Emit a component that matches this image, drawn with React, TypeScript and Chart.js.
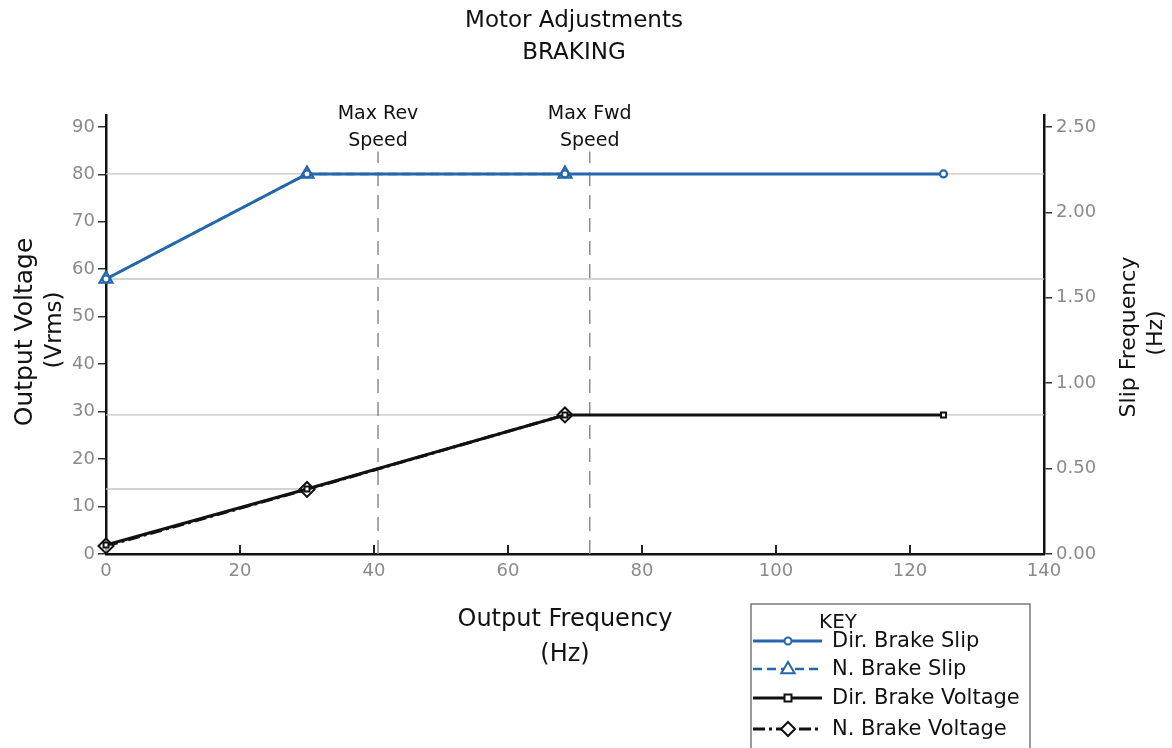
import React, { useEffect, useRef } from 'react';
import { Chart, registerables } from 'chart.js';

Chart.register(...registerables);

// ---------- data ----------
const slipFreqDir = [0, 30, 68.5, 125];
const slipDir = [1.61, 2.225, 2.225, 2.225];
const slipFreqN = [0, 30, 68.5];
const slipN = [1.61, 2.225, 2.225];
const voltFreqDir = [0, 30, 68.5, 125];
const voltDir = [1.9, 13.7, 29.3, 29.3];
const voltFreqN = [0, 30, 68.5];
const voltN = [1.7, 13.6, 29.3];

const xTickValues = [0, 20, 40, 60, 80, 100, 120, 140];
const leftTickValues = [0, 10, 20, 30, 40, 50, 60, 70, 80, 90];
const rightTickValues = [0, 0.5, 1.0, 1.5, 2.0, 2.5];

const speedMarkerX = [40.6, 72.2];
const speedMarkerLabels = [['Max Rev', 'Speed'], ['Max Fwd', 'Speed']];
const speedMarkerTop = 84.8; // in voltage units

const refSlipLevels = [2.225, 1.61];
const refVoltLevels = [29.3];
const refVoltPartial = { level: 13.7, xEnd: 30 };

const titleLines = ['Motor Adjustments', 'BRAKING'];
const xTitle = ['Output Frequency', '(Hz)'];
const yLeftTitle = ['Output Voltage', '(Vrms)'];
const yRightTitle = ['Slip Frequency', '(Hz)'];
const legendTitle = 'KEY';

const BLUE = '#2467ad';
const BLACK = '#111111';
const GRAY_REF = '#c4c4c4';
const FONT = '"DejaVu Sans", "Noto Sans", sans-serif';

const pts = (xs: number[], ys: number[]) => xs.map((x, i) => ({ x, y: ys[i] }));

const textPlugin = {
  id: 'extraText',
  afterDraw(chart: any) {
    const ctx = chart.ctx;
    const x = chart.scales.x;
    ctx.save();
    ctx.fillStyle = '#111';
    ctx.textAlign = 'center';
    ctx.textBaseline = 'middle';
    // title
    ctx.font = `23px ${FONT}`;
    ctx.fillText(titleLines[0], 574, 21);
    ctx.fillText(titleLines[1], 574, 53);
    // speed marker labels
    ctx.font = `19px ${FONT}`;
    speedMarkerX.forEach((v, i) => {
      const px = x.getPixelForValue(v);
      ctx.fillText(speedMarkerLabels[i][0], px, 114);
      ctx.fillText(speedMarkerLabels[i][1], px, 141);
    });
    // x title
    ctx.font = `24px ${FONT}`;
    ctx.fillText(xTitle[0], 565, 620);
    ctx.fillText(xTitle[1], 565, 655);
    // left y title
    ctx.font = `25px ${FONT}`;
    ctx.save();
    ctx.translate(25, 332);
    ctx.rotate(-Math.PI / 2);
    ctx.fillText(yLeftTitle[0], 0, 0);
    ctx.restore();
    ctx.font = `23px ${FONT}`;
    ctx.save();
    ctx.translate(55, 330);
    ctx.rotate(-Math.PI / 2);
    ctx.fillText(yLeftTitle[1], 0, 0);
    ctx.restore();
    // right y title
    ctx.font = `22px ${FONT}`;
    ctx.save();
    ctx.translate(1129, 337);
    ctx.rotate(-Math.PI / 2);
    ctx.fillText(yRightTitle[0], 0, 0);
    ctx.restore();
    ctx.save();
    ctx.translate(1156, 333);
    ctx.rotate(-Math.PI / 2);
    ctx.fillText(yRightTitle[1], 0, 0);
    ctx.restore();

    // inward x ticks
    ctx.strokeStyle = '#222';
    ctx.lineWidth = 2;
    const bottom = chart.chartArea.bottom;
    xTickValues.forEach((v) => {
      if (v === 0 || v === 140) return;
      const px = x.getPixelForValue(v);
      ctx.beginPath();
      ctx.moveTo(px, bottom);
      ctx.lineTo(px, bottom - 9);
      ctx.stroke();
    });

    // legend box
    ctx.strokeStyle = '#7a7a7a';
    ctx.lineWidth = 1.5;
    ctx.strokeRect(751, 604, 279, 160);
    ctx.fillStyle = '#111';
    ctx.font = `20px ${FONT}`;
    ctx.fillText(legendTitle, 838, 623);
    const rows = [641, 669, 698, 729];
    const ds = chart.data.datasets.slice(0, 4);
    ds.forEach((d: any, i: number) => {
      const y = rows[i];
      ctx.save();
      ctx.strokeStyle = d.borderColor;
      ctx.lineWidth = d.borderWidth;
      ctx.setLineDash(d.borderDash || []);
      ctx.beginPath();
      ctx.moveTo(753, y);
      ctx.lineTo(822, y);
      ctx.stroke();
      ctx.setLineDash([]);
      ctx.fillStyle = '#fff';
      ctx.lineWidth = 2;
      ctx.strokeStyle = d.pointBorderColor;
      const mx = 788;
      const ps = d.pointStyle;
      const r = ps === 'circle' ? 3.5 : ps === 'rect' ? 3.5 : 7;
      ctx.beginPath();
      if (ps === 'circle') {
        ctx.arc(mx, y, r, 0, Math.PI * 2);
      } else if (ps === 'rect') {
        ctx.rect(mx - r, y - r, 2 * r, 2 * r);
      } else if (ps === 'triangle') {
        ctx.moveTo(mx, y - r);
        ctx.lineTo(mx + r * 0.95, y + r * 0.6);
        ctx.lineTo(mx - r * 0.95, y + r * 0.6);
        ctx.closePath();
      } else {
        ctx.moveTo(mx, y - r);
        ctx.lineTo(mx + r, y);
        ctx.lineTo(mx, y + r);
        ctx.lineTo(mx - r, y);
        ctx.closePath();
      }
      ctx.fill();
      ctx.stroke();
      ctx.restore();
      ctx.fillStyle = '#111';
      ctx.textAlign = 'left';
      ctx.font = `21px ${FONT}`;
      ctx.fillText(d.label, 832, y + 1);
      ctx.textAlign = 'center';
    });
    ctx.restore();
  },
};

export default function App() {
  const ref = useRef<HTMLCanvasElement | null>(null);
  useEffect(() => {
    if (!ref.current) return;
    const refDatasets: any[] = [];
    refSlipLevels.forEach((lv) =>
      refDatasets.push({
        label: 'ref',
        data: [{ x: 0, y: lv }, { x: 140, y: lv }],
        yAxisID: 'y2',
        borderColor: GRAY_REF,
        borderWidth: 1.3,
        pointRadius: 0,
        order: 10,
      })
    );
    refVoltLevels.forEach((lv) =>
      refDatasets.push({
        label: 'ref',
        data: [{ x: 0, y: lv }, { x: 140, y: lv }],
        yAxisID: 'y',
        borderColor: GRAY_REF,
        borderWidth: 1.3,
        pointRadius: 0,
        order: 10,
      })
    );
    refDatasets.push({
      label: 'ref',
      data: [{ x: 0, y: refVoltPartial.level }, { x: refVoltPartial.xEnd, y: refVoltPartial.level }],
      yAxisID: 'y',
      borderColor: GRAY_REF,
      borderWidth: 1.3,
      pointRadius: 0,
      order: 10,
    });
    speedMarkerX.forEach((v) =>
      refDatasets.push({
        label: 'marker',
        data: [{ x: v, y: 0 }, { x: v, y: speedMarkerTop }],
        yAxisID: 'y',
        borderColor: '#8c8c8c',
        borderWidth: 1.5,
        borderDash: [14, 9],
        pointRadius: 0,
        order: 9,
      })
    );

    const chart = new Chart(ref.current, {
      type: 'line',
      data: {
        datasets: [
          {
            label: 'Dir. Brake Slip',
            data: pts(slipFreqDir, slipDir),
            yAxisID: 'y2',
            borderColor: BLUE,
            borderWidth: 3,
            pointStyle: 'circle',
            pointRadius: 3.5,
            pointBorderWidth: 2.2,
            pointBorderColor: BLUE,
            pointBackgroundColor: '#fff',
            order: 1,
          },
          {
            label: 'N. Brake Slip',
            data: pts(slipFreqN, slipN),
            yAxisID: 'y2',
            borderColor: BLUE,
            borderWidth: 2.5,
            borderDash: [9, 5],
            pointStyle: 'triangle',
            pointRadius: 7.5,
            pointBorderWidth: 2.2,
            pointBorderColor: BLUE,
            pointBackgroundColor: '#fff',
            order: 2,
          },
          {
            label: 'Dir. Brake Voltage',
            data: pts(voltFreqDir, voltDir),
            yAxisID: 'y',
            borderColor: BLACK,
            borderWidth: 3,
            pointStyle: 'rect',
            pointRadius: 3.5,
            pointBorderWidth: 2,
            pointBorderColor: BLACK,
            pointBackgroundColor: '#fff',
            order: 3,
          },
          {
            label: 'N. Brake Voltage',
            data: pts(voltFreqN, voltN),
            yAxisID: 'y',
            borderColor: BLACK,
            borderWidth: 3,
            borderDash: [12, 4, 3, 4],
            pointStyle: 'rectRot',
            pointRadius: 7.5,
            pointBorderWidth: 2,
            pointBorderColor: BLACK,
            pointBackgroundColor: 'rgba(255,255,255,0.6)',
            order: 4,
          },
          ...refDatasets,
        ],
      },
      options: {
        animation: false,
        responsive: true,
        maintainAspectRatio: false,
        layout: { padding: { top: 115, left: 0, right: 0, bottom: 0 } },
        plugins: {
          legend: { display: false },
          title: { display: false },
          tooltip: { enabled: false },
        },
        elements: { line: { tension: 0 } },
        datasets: { line: { clip: false as any } },
        scales: {
          x: {
            type: 'linear',
            min: 0,
            max: 140,
            afterFit: (s: any) => {
              s.height = 748 - 554;
            },
            afterBuildTicks: (s: any) => {
              s.ticks = xTickValues.map((v) => ({ value: v }));
            },
            grid: { display: true, drawOnChartArea: false, drawTicks: false },
            border: { display: true, color: BLACK, width: 2.5 },
            ticks: {
              color: '#8a8a8a',
              font: { family: FONT, size: 18 },
              padding: 7,
              maxRotation: 0,
            },
          },
          y: {
            type: 'linear',
            position: 'left',
            min: 0,
            max: 92.5,
            afterFit: (s: any) => {
              s.width = 106;
            },
            afterBuildTicks: (s: any) => {
              s.ticks = leftTickValues.map((v) => ({ value: v }));
            },
            grid: { drawOnChartArea: false, drawTicks: true, tickLength: 8, color: '#333', lineWidth: 1.5 },
            border: { display: true, color: BLACK, width: 2.5 },
            ticks: {
              color: '#8a8a8a',
              font: { family: FONT, size: 18 },
              padding: 3,
            },
          },
          y2: {
            type: 'linear',
            position: 'right',
            min: 0,
            max: 2.57,
            afterFit: (s: any) => {
              s.width = 1172 - 1044;
            },
            afterBuildTicks: (s: any) => {
              s.ticks = rightTickValues.map((v) => ({ value: v }));
            },
            grid: { drawOnChartArea: false, drawTicks: true, tickLength: 8, color: '#333', lineWidth: 1.5 },
            border: { display: true, color: BLACK, width: 2.5 },
            ticks: {
              color: '#8a8a8a',
              font: { family: FONT, size: 18 },
              padding: 4,
              callback: (v: any) => Number(v).toFixed(2),
            },
          },
        },
      },
      plugins: [textPlugin],
    } as any);
    return () => chart.destroy();
  }, []);

  return (
    <div style={{ position: 'fixed', left: 0, top: 0, width: 1172, height: 748, background: '#fff' }}>
      <canvas ref={ref} />
    </div>
  );
}
